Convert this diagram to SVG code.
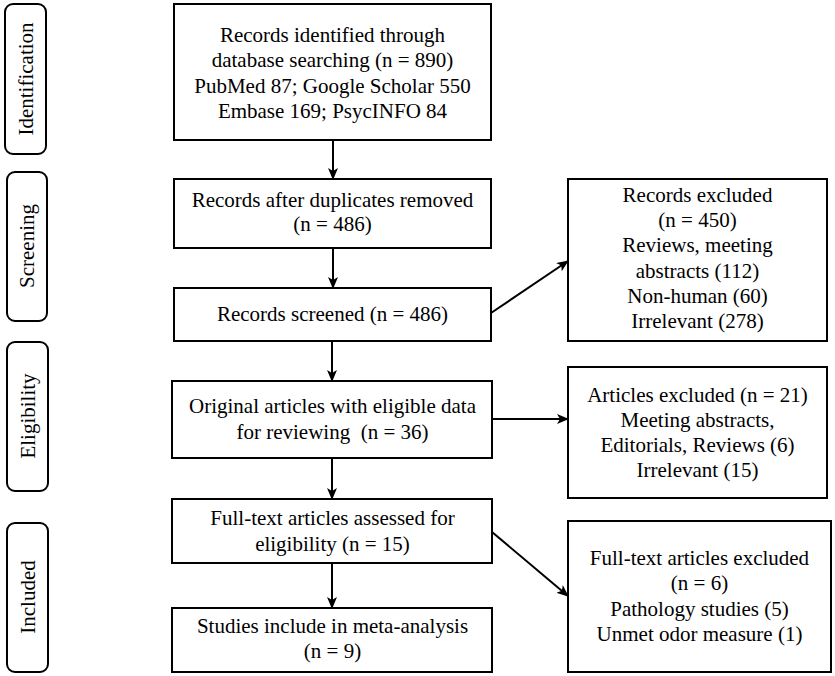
<svg xmlns="http://www.w3.org/2000/svg" width="835" height="676" viewBox="0 0 835 676">
<defs>
<marker id="ah" viewBox="0 0 12 10" refX="11" refY="5" markerWidth="12" markerHeight="10" markerUnits="userSpaceOnUse" orient="auto">
<path d="M0,0 L12,5 L0,10 L3,5 Z" fill="#000"/>
</marker>
</defs>
<style>
text{font-family:'Liberation Serif','Times New Roman',Tinos,'DejaVu Serif',serif;font-size:21px;fill:#000;text-anchor:middle}
.box{fill:#fff;stroke:#000;stroke-width:2}
.side{fill:#fff;stroke:#000;stroke-width:2}
.conn{stroke:#000;stroke-width:2;fill:none;marker-end:url(#ah)}
</style>
<rect width="835" height="676" fill="#fff"/>
<g font-family="Liberation Serif, Times New Roman, serif">
<g id="side-identification"><rect class="side" x="5" y="4" width="41" height="150" rx="8"/><text transform="translate(33,79) rotate(-90)">Identification</text></g>
<g id="side-screening"><rect class="side" x="7" y="172" width="40" height="149" rx="8"/><text transform="translate(34,246) rotate(-90)">Screening</text></g>
<g id="side-eligibility"><rect class="side" x="7" y="342" width="41" height="149" rx="8"/><text transform="translate(35,416) rotate(-90)">Eligibility</text></g>
<g id="side-included"><rect class="side" x="7" y="523" width="41" height="149" rx="8"/><text transform="translate(35,597) rotate(-90)">Included</text></g>

<g id="n1"><rect class="box" x="174" y="4" width="317" height="136"/>
<text x="332.5" y="42">Records identified through</text>
<text x="332.5" y="67">database searching (n = 890)</text>
<text x="332.5" y="93">PubMed 87; Google Scholar 550</text>
<text x="332.5" y="118">Embase 169; PsycINFO 84</text></g>
<g id="n2"><rect class="box" x="174" y="179" width="317" height="69"/>
<text x="332.5" y="207">Records after duplicates removed</text>
<text x="332.5" y="231">(n = 486)</text></g>
<g id="n3"><rect class="box" x="174" y="288" width="317" height="53"/>
<text x="332.5" y="321">Records screened (n = 486)</text></g>
<g id="n4"><rect class="box" x="172" y="381" width="320" height="77"/>
<text x="332.5" y="413">Original articles with eligible data</text>
<text x="332.5" y="439" xml:space="preserve">for reviewing  (n = 36)</text></g>
<g id="n5"><rect class="box" x="172" y="499" width="320" height="64"/>
<text x="332.5" y="525">Full-text articles assessed for</text>
<text x="332.5" y="551">eligibility (n = 15)</text></g>
<g id="n6"><rect class="box" x="172" y="608" width="320" height="64"/>
<text x="332.5" y="633">Studies include in meta-analysis</text>
<text x="332.5" y="658">(n = 9)</text></g>

<g id="r1"><rect class="box" x="568" y="179" width="259" height="162"/>
<text x="697.5" y="202">Records excluded</text>
<text x="697.5" y="227">(n = 450)</text>
<text x="697.5" y="252">Reviews, meeting</text>
<text x="697.5" y="278">abstracts (112)</text>
<text x="697.5" y="303">Non-human (60)</text>
<text x="697.5" y="328">Irrelevant (278)</text></g>
<g id="r2"><rect class="box" x="568" y="367" width="259" height="131"/>
<text x="697.5" y="402">Articles excluded (n = 21)</text>
<text x="697.5" y="427">Meeting abstracts,</text>
<text x="697.5" y="452">Editorials, Reviews (6)</text>
<text x="697.5" y="477">Irrelevant (15)</text></g>
<g id="r3"><rect class="box" x="568" y="521" width="263" height="151"/>
<text x="699.5" y="565">Full-text articles excluded</text>
<text x="699.5" y="590">(n = 6)</text>
<text x="699.5" y="616">Pathology studies (5)</text>
<text x="699.5" y="641">Unmet odor measure (1)</text></g>
</g>
<g id="connectors">
<line class="conn" x1="333" y1="140" x2="333" y2="179"/>
<line class="conn" x1="333" y1="248" x2="333" y2="288"/>
<line class="conn" x1="332" y1="341" x2="332" y2="381"/>
<line class="conn" x1="332" y1="458" x2="332" y2="499"/>
<line class="conn" x1="332" y1="563" x2="332" y2="608"/>
<line class="conn" x1="491" y1="313" x2="568" y2="261"/>
<line class="conn" x1="492" y1="419" x2="568" y2="419"/>
<line class="conn" x1="492" y1="532" x2="568" y2="596"/>
</g>
</svg>
